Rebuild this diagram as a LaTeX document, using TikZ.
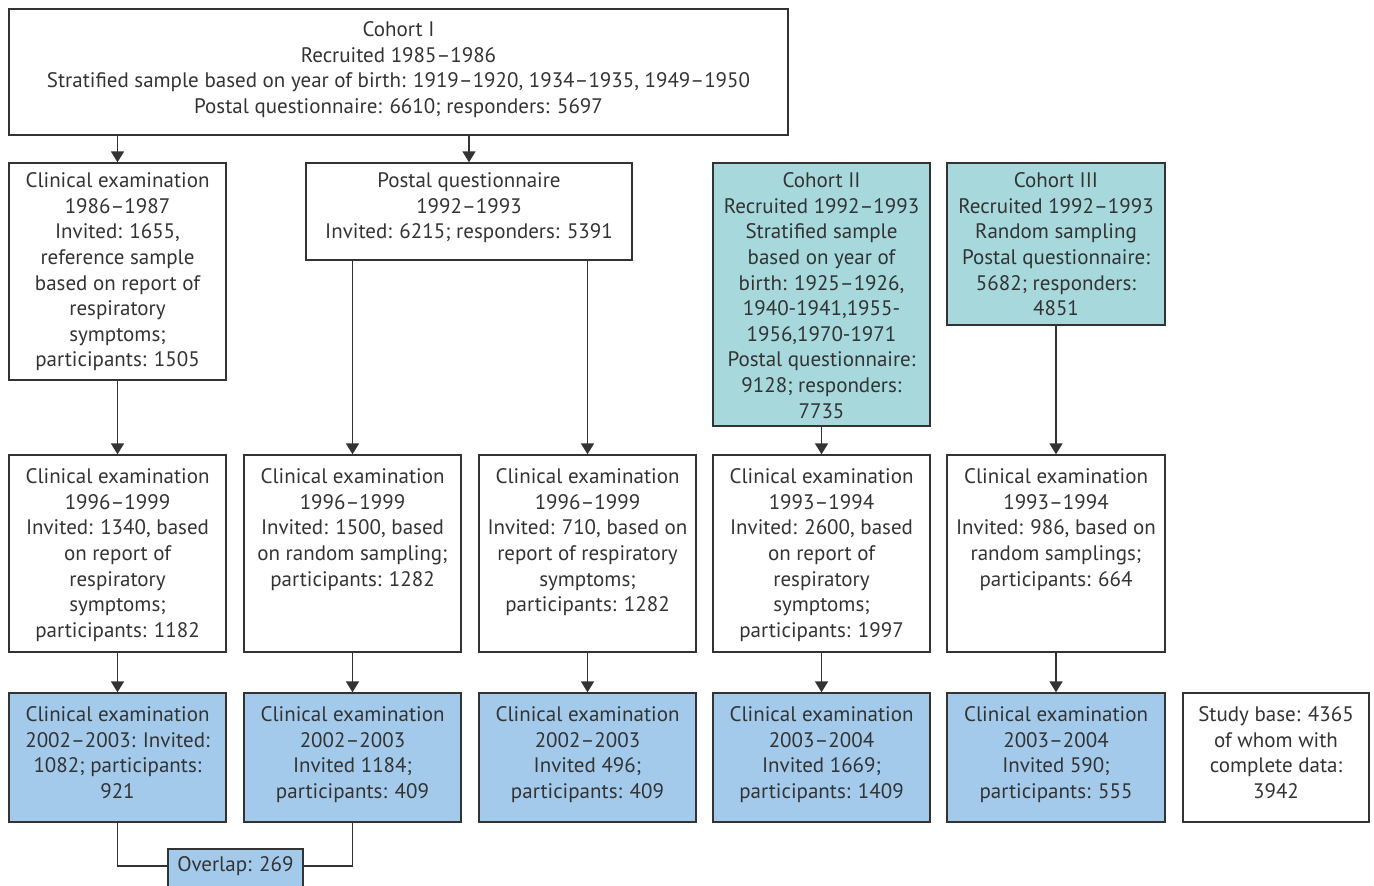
\documentclass[tikz,border=0pt]{standalone}
\usepackage{fontspec}
\setmainfont{PT Sans}
\usetikzlibrary{arrows.meta}
\definecolor{cohortteal}{HTML}{A6D8DC}
\definecolor{examblue}{HTML}{A3CAEB}
\definecolor{linegray}{HTML}{333333}

\begin{document}
\begin{tikzpicture}[x=0.5pt,y=-0.5pt]
\tikzset{
  box/.style={draw=linegray, line width=0.7pt, inner sep=0pt},
  sized/.style 2 args={minimum width=#1*0.5pt, minimum height=#2*0.5pt},
  txt/.style={anchor=north, align=center, inner sep=0pt, text=linegray,
    font=\fontsize{10.5}{12.8}\selectfont},
  arr/.style={draw=linegray, line width=0.9pt, -{Triangle[length=5.5pt,width=6.5pt]}},
  link/.style={draw=linegray, line width=0.7pt}
}
\useasboundingbox (0,0) rectangle (1374,885);

% cohort I
\node[box, sized={779}{126}] (top) at (398.5,72) {};
\node[txt] (topt) at ([yshift=-6.5pt]top.north) {Cohort I\\Recruited 1985–1986\\Stratified sample based on year of birth: 1919–1920, 1934–1935, 1949–1950\\Postal questionnaire: 6610; responders: 5697};

% second row
\node[box, sized={217}{217}] (a2) at (117.5,271.5) {};
\node[txt] (a2t) at ([yshift=-5pt]a2.north) {Clinical examination\\1986–1987\\Invited: 1655,\\reference sample\\based on report of\\respiratory\\symptoms;\\participants: 1505};
\node[box, sized={326}{97}] (b2) at (469,211.5) {};
\node[txt] (b2t) at ([yshift=-5pt]b2.north) {Postal questionnaire\\1992–1993\\Invited: 6215; responders: 5391};
\node[box, fill=cohortteal, sized={217}{263}] (c2) at (821.5,294.5) {};
\node[txt] (c2t) at ([yshift=-5pt]c2.north) {Cohort II\\Recruited 1992–1993\\Stratified sample\\based on year of\\birth: 1925–1926,\\1940-1941,1955-\\1956,1970-1971\\Postal questionnaire:\\9128; responders:\\7735};
\node[box, fill=cohortteal, sized={218}{162}] (d2) at (1056,244) {};
\node[txt] (d2t) at ([yshift=-5pt]d2.north) {Cohort III\\Recruited 1992–1993\\Random sampling\\Postal questionnaire:\\5682; responders:\\4851};

% third row
\node[box, sized={217}{197}] (r3a) at (117.5,553.5) {};
\node[txt] (r3at) at ([yshift=-7pt]r3a.north) {Clinical examination\\1996–1999\\Invited: 1340, based\\on report of\\respiratory\\symptoms;\\participants: 1182};
\node[box, sized={217}{197}] (r3b) at (352.5,553.5) {};
\node[txt] (r3bt) at ([yshift=-7pt]r3b.north) {Clinical examination\\1996–1999\\Invited: 1500, based\\on random sampling;\\participants: 1282};
\node[box, sized={217}{197}] (r3c) at (587.5,553.5) {};
\node[txt] (r3ct) at ([yshift=-7pt]r3c.north) {Clinical examination\\1996–1999\\Invited: 710, based on\\report of respiratory\\symptoms;\\participants: 1282};
\node[box, sized={217}{197}] (r3d) at (821.5,553.5) {};
\node[txt] (r3dt) at ([yshift=-7pt]r3d.north) {Clinical examination\\1993–1994\\Invited: 2600, based\\on report of\\respiratory\\symptoms;\\participants: 1997};
\node[box, sized={218}{197}] (r3e) at (1056,553.5) {};
\node[txt] (r3et) at ([yshift=-7pt]r3e.north) {Clinical examination\\1993–1994\\Invited: 986, based on\\random samplings;\\participants: 664};

% fourth row
\node[box, fill=examblue, sized={217}{129}] (r4a) at (117.5,757.5) {};
\node[txt] (r4at) at ([yshift=-7pt]r4a.north) {Clinical examination\\2002–2003: Invited:\\1082; participants:\\921};
\node[box, fill=examblue, sized={217}{129}] (r4b) at (352.5,757.5) {};
\node[txt] (r4bt) at ([yshift=-7pt]r4b.north) {Clinical examination\\2002–2003\\Invited 1184;\\participants: 409};
\node[box, fill=examblue, sized={217}{129}] (r4c) at (587.5,757.5) {};
\node[txt] (r4ct) at ([yshift=-7pt]r4c.north) {Clinical examination\\2002–2003\\Invited 496;\\participants: 409};
\node[box, fill=examblue, sized={217}{129}] (r4d) at (821.5,757.5) {};
\node[txt] (r4dt) at ([yshift=-7pt]r4d.north) {Clinical examination\\2003–2004\\Invited 1669;\\participants: 1409};
\node[box, fill=examblue, sized={218}{129}] (r4e) at (1056,757.5) {};
\node[txt] (r4et) at ([yshift=-7pt]r4e.north) {Clinical examination\\2003–2004\\Invited 590;\\participants: 555};
\node[box, sized={186}{129}] (base) at (1276,757.5) {};
\node[txt] (baset) at ([yshift=-7pt]base.north) {Study base: 4365\\of whom with\\complete data:\\3942};

% overlap
\node[box, fill=examblue, sized={135}{54}] (ovl) at (235.5,876) {};
\node[txt, anchor=center] (ovlt) at (235.5,866) {Overlap: 269};

% arrows
\draw[arr] (top.south -| a2.north) -- (a2.north);
\draw[arr] (top.south -| b2.north) -- (b2.north);
\draw[arr] (a2.south) -- (r3a.north);
\draw[arr] (b2.south -| r3b.north) -- (r3b.north);
\draw[arr] (b2.south -| r3c.north) -- (r3c.north);
\draw[arr] (c2.south) -- (r3d.north);
\draw[arr] (d2.south) -- (r3e.north);
\draw[arr] (r3a.south) -- (r4a.north);
\draw[arr] (r3b.south) -- (r4b.north);
\draw[arr] (r3c.south) -- (r4c.north);
\draw[arr] (r3d.south) -- (r4d.north);
\draw[arr] (r3e.south) -- (r4e.north);
\draw[link] (r4a.south) |- (ovl.west |- ovlt.center);
\draw[link] (r4b.south) |- (ovl.east |- ovlt.center);
\end{tikzpicture}
\end{document}
